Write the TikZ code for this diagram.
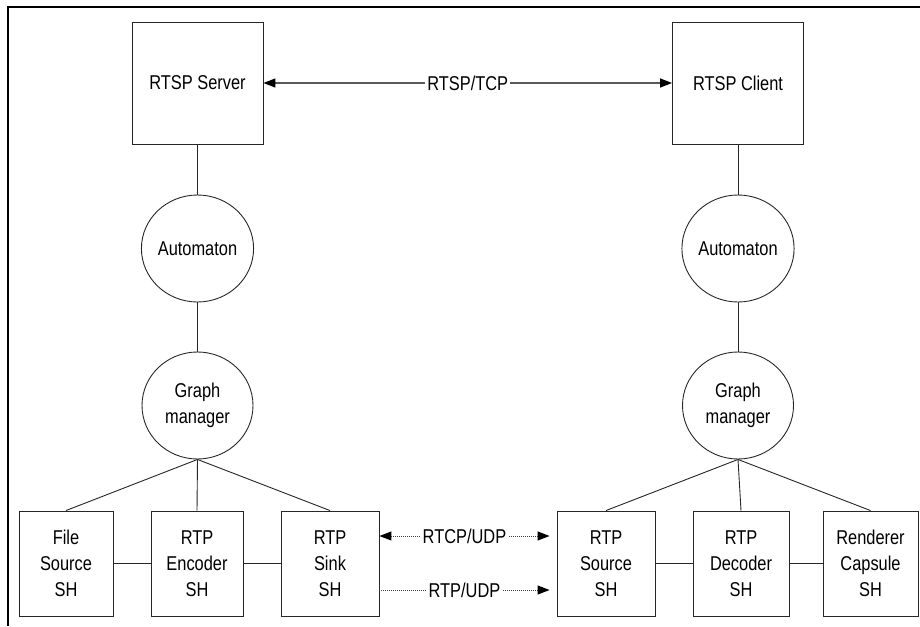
\documentclass[tikz,border=0pt]{standalone}
\usepackage{fontspec}
\setmainfont{Liberation Sans}[FakeStretch=0.82]
\usetikzlibrary{arrows.meta,shapes.geometric}
\begin{document}
\begin{tikzpicture}[x=1pt,y=-1pt,
  every node/.style={font=\fontsize{20}{26}\selectfont, align=center, inner sep=0pt},
  srvbox/.style={draw=black!85, line width=0.9pt, minimum width=131pt, minimum height=122pt},
  shbox/.style={draw=black!85, line width=0.9pt, minimum width=96pt, minimum height=105pt},
  ctrl/.style={ellipse, draw=black!85, line width=0.9pt, minimum width=111pt, minimum height=107pt},
  link/.style={draw=black!85, line width=0.9pt},
  tip/.tip={Triangle[length=12pt,width=9pt,black]},
  tcp/.style={draw=black!65, line width=1.3pt, tip-tip},
  udp/.style={draw=black!75, line width=1pt, densely dotted},
  lbl/.style={fill=white, inner xsep=2pt, inner ysep=3pt}]
\useasboundingbox (0,0) rectangle (920,626);

% outer frame
\draw[line width=2.5pt] (920,7) -- (8,7) -- (8,626);

% RTSP endpoints
\node[srvbox] (srv) at (197.5,83) {RTSP Server};
\node[srvbox] (cli) at (738,83) {RTSP Client};

% control layer
\node[ctrl] (autoL) at (197.5,248.5) {Automaton};
\node[ctrl] (autoR) at (738,248.5) {Automaton};
\node[ctrl] (gmL) at (197.5,405.5) {Graph\\manager};
\node[ctrl] (gmR) at (738,405.5) {Graph\\manager};

% stream handlers
\node[shbox, minimum width=94pt] (fsrc) at (66,563.5) {File\\Source\\SH};
\node[shbox, minimum width=92pt] (enc) at (197,563.5) {RTP\\Encoder\\SH};
\node[shbox, minimum width=98pt] (sink) at (330,563.5) {RTP\\Sink\\SH};
\node[shbox, minimum width=98pt] (rsrc) at (606,563.5) {RTP\\Source\\SH};
\node[shbox, minimum width=96pt] (dec) at (741,563.5) {RTP\\Decoder\\SH};
\node[shbox, minimum width=95pt] (rend) at (870.5,563.5) {Renderer\\Capsule\\SH};

% vertical links
\draw[link] (srv.south) -- (autoL.north);
\draw[link] (autoL.south) -- (gmL.north);
\draw[link] (cli.south) -- (autoR.north);
\draw[link] (autoR.south) -- (gmR.north);

% graph manager fan-out
\draw[link] (gmL.south) -- (fsrc.north);
\draw[link] (gmL.south) -- (enc.north);
\draw[link] (gmL.south) -- (sink.north);
\draw[link] (gmR.south) -- (rsrc.north);
\draw[link] (gmR.south) -- (dec.north);
\draw[link] (gmR.south) -- (rend.north);

% pipeline chains
\draw[link] (fsrc.east) -- (enc.west);
\draw[link] (enc.east) -- (sink.west);
\draw[link] (rsrc.east) -- (dec.west);
\draw[link] (dec.east) -- (rend.west);

% control connection
\draw[tcp] (srv.east) -- node[lbl] {RTSP/TCP} (cli.west);

% media connections
\draw[udp, tip-tip] ([yshift=27.5pt]sink.east) -- node[lbl] {RTCP/UDP} ([yshift=27.5pt, xshift=-7pt]rsrc.west);
\draw[udp, -tip] ([yshift=-26.5pt]sink.east) -- node[lbl] {RTP/UDP} ([yshift=-26.5pt, xshift=-7pt]rsrc.west);
\end{tikzpicture}
\end{document}
